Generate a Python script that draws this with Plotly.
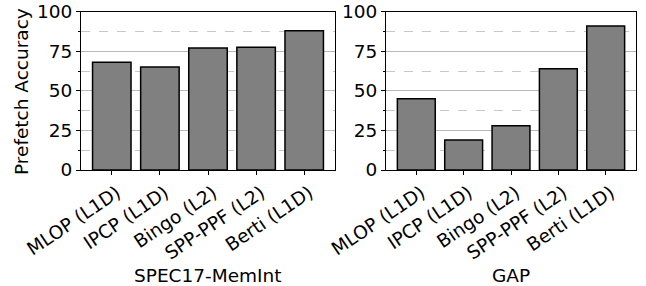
import plotly.graph_objects as go

categories = ["MLOP (L1D)", "IPCP (L1D)", "Bingo (L2)", "SPP-PPF (L2)", "Berti (L1D)"]
spec17_acc = [68, 65, 77, 77.5, 88]
gap_acc = [45, 19, 28, 64, 91]
panel_titles = ["SPEC17-MemInt", "GAP"]
y_title = "Prefetch Accuracy"
y_ticks = [0, 25, 50, 75, 100]
y_minor = [12.5, 37.5, 62.5, 87.5]

W, H = 646, 286
FONT = "DejaVu Sans"
FS = 18.5

fig = go.Figure()
for i, vals in enumerate([spec17_acc, gap_acc]):
    sfx = "" if i == 0 else str(i + 1)
    fig.add_trace(go.Bar(
        x=categories, y=vals, xaxis="x" + sfx, yaxis="y" + sfx,
        marker=dict(color="#808080", line=dict(color="black", width=1.5)),
        showlegend=False,
    ))

ydom = [1 - 170 / H, 1 - 11.7 / H]
xdoms = [[81 / W, 335 / W], [386 / W, 636 / W]]

layout = dict(
    width=W, height=H,
    margin=dict(l=0, r=0, t=0, b=0, autoexpand=False),
    paper_bgcolor="white", plot_bgcolor="white",
    font=dict(family=FONT, size=FS, color="black"),
    bargap=0.2,
)
for i in range(2):
    sfx = "" if i == 0 else str(i + 1)
    layout["xaxis" + sfx] = dict(
        domain=xdoms[i], anchor="y" + sfx, type="category",
        range=[-0.64, 4.64], tickangle=-34, automargin=False,
        ticklabelshift=5,
        ticks="outside", ticklen=4, tickcolor="black",
        showline=True, linecolor="black", linewidth=1, mirror=True,
        showgrid=False, tickfont=dict(family=FONT, size=FS),
    )
    layout["yaxis" + sfx] = dict(
        domain=ydom, anchor="x" + sfx, range=[0, 100], automargin=False,
        tickvals=y_ticks, ticks="outside", ticklen=4, tickcolor="black",
        showline=True, linecolor="black", linewidth=1, mirror=True,
        showgrid=True, gridcolor="#b8b8b8", gridwidth=1,
        zeroline=False,
        minor=dict(tickmode="array", tickvals=y_minor, showgrid=True,
                   gridcolor="#c8c8c8", griddash="dash", gridwidth=1,
                   ticks="outside", ticklen=2, tickcolor="black"),
        tickfont=dict(family=FONT, size=FS),
    )
fig.update_layout(**layout)

annos = []
for i, t in enumerate(panel_titles):
    cx = (xdoms[i][0] + xdoms[i][1]) / 2
    annos.append(dict(text=t, x=cx, y=1 - 275 / H, xref="paper", yref="paper",
                      showarrow=False, xanchor="center", yanchor="middle",
                      font=dict(family=FONT, size=FS)))
annos.append(dict(text=y_title, x=21 / W, y=1 - 92 / H, xref="paper", yref="paper",
                  showarrow=False, textangle=-90, xanchor="center", yanchor="middle",
                  font=dict(family=FONT, size=FS)))
fig.update_layout(annotations=annos)

fig.write_html(
    "out.html",
    config={"displayModeBar": False},
    post_script="document.body.style.margin='0';document.body.style.overflow='hidden';",
)
